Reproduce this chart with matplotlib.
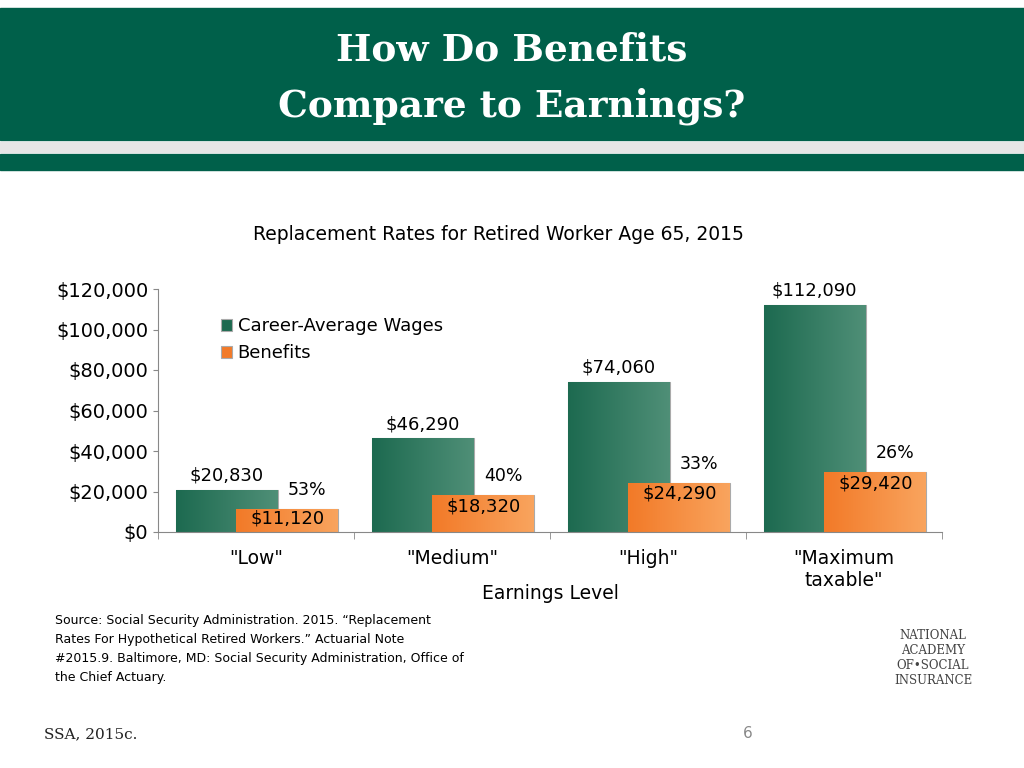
import matplotlib
matplotlib.use("Agg")
import matplotlib.pyplot as plt
import numpy as np
from matplotlib.patches import Rectangle

categories = ['"Low"', '"Medium"', '"High"', '"Maximum\ntaxable"']
wages = [20830, 46290, 74060, 112090]
benefits = [11120, 18320, 24290, 29420]
rates = ["53%", "40%", "33%", "26%"]
yticks = [0, 20000, 40000, 60000, 80000, 100000, 120000]

GREEN = "#00604a"
fig = plt.figure(figsize=(10.24, 7.68), dpi=100)
fig.patch.set_facecolor("white")
fig.add_artist(Rectangle((0, 1-140/768), 1, 132/768, transform=fig.transFigure, color=GREEN, zorder=0))
fig.add_artist(Rectangle((0, 1-170/768), 1, 16/768, transform=fig.transFigure, color=GREEN, zorder=0))
fig.add_artist(Rectangle((0, 1-152/768), 1, 10/768, transform=fig.transFigure, color="#e6e6e6", zorder=0))
fig.text(0.5, 1-50/768, "How Do Benefits", ha="center", va="center", color="white", fontsize=27, family="DejaVu Serif", weight="bold")
fig.text(0.5, 1-106/768, "Compare to Earnings?", ha="center", va="center", color="white", fontsize=27, family="DejaVu Serif", weight="bold")
fig.text(0.487, 1-234/768, "Replacement Rates for Retired Worker Age 65, 2015", ha="center", va="center", fontsize=13.5)

ax = fig.add_axes([158/1024, 1-532/768, 784/1024, 243/768])
x = np.arange(len(categories))
w = 0.52
def grad_bar(xc, h, c_top, c_bot, label=None):
    b = ax.bar(xc, h, w, color=c_top, edgecolor="#aaaaaa", linewidth=0.8, label=label, zorder=2)[0]
    g = np.linspace(0, 1, 64).reshape(1, -1)
    cmap = matplotlib.colors.LinearSegmentedColormap.from_list("g", [c_top, c_bot])
    im = ax.imshow(g, extent=[xc-w/2, xc+w/2, 0, h], aspect="auto", cmap=cmap, zorder=2.5)
    im.set_clip_path(b)
    return b
for i in x:
    grad_bar(i-0.15, wages[i], "#1d6a50", "#4f8f77", "Career-Average Wages" if i == 0 else None)
    ax.text(i-0.15, wages[i]+2500, f"${wages[i]:,}", ha="center", va="bottom", fontsize=13)
for i in x:
    grad_bar(i+0.16, benefits[i], "#f27a28", "#f9a45e", "Benefits" if i == 0 else None)
    ax.text(i+0.16, benefits[i]-5500 if i > 0 else benefits[i]-4300, f"${benefits[i]:,}", ha="center", va="center", fontsize=13, zorder=5)
    ax.text(i+0.26, benefits[i]+9500, rates[i], ha="center", va="center", fontsize=12.5)
ax.set_xlim(-0.5, 3.5)
ax.set_ylim(0, 120000)
ax.set_yticks(yticks)
ax.set_yticklabels([f"${v:,}" for v in yticks], fontsize=14)
ax.set_xticks(x)
ax.set_xticklabels(categories, fontsize=13.5)
ax.tick_params(axis="x", length=0, pad=12)
ax.tick_params(axis="y", color="#888888")
for s in ["top", "right"]:
    ax.spines[s].set_visible(False)
ax.spines["left"].set_color("#888888")
ax.spines["bottom"].set_color("#888888")
ax.set_xticks(np.arange(-0.5, 4, 1), minor=True)
ax.tick_params(axis="x", which="minor", length=5, color="#888888")
ax.set_xlabel("Earnings Level", fontsize=13.5, labelpad=-4)
ax.legend(loc="upper left", bbox_to_anchor=(0.06, 0.95), frameon=False, fontsize=13, handlelength=0.6, handleheight=0.6, handletextpad=0.3, labelspacing=0.5)

fig.text(55/1024, 1-614/768, "Source: Social Security Administration. 2015. \u201cReplacement\nRates For Hypothetical Retired Workers.\u201d Actuarial Note\n#2015.9. Baltimore, MD: Social Security Administration, Office of\nthe Chief Actuary.", ha="left", va="top", fontsize=9, linespacing=1.6)
fig.text(933/1024, 1-658/768, "NATIONAL\nACADEMY\nOF\u2022SOCIAL\nINSURANCE", ha="center", va="center", fontsize=8.5, family="DejaVu Serif", color="#444444", linespacing=1.2)
fig.text(44/1024, 1-734/768, "SSA, 2015c.", fontsize=11, family="DejaVu Serif", va="center", color="#222222")
fig.text(748/1024, 1-734/768, "6", fontsize=11, va="center", ha="center", color="#888888")
fig.savefig("out.png", dpi=100)
